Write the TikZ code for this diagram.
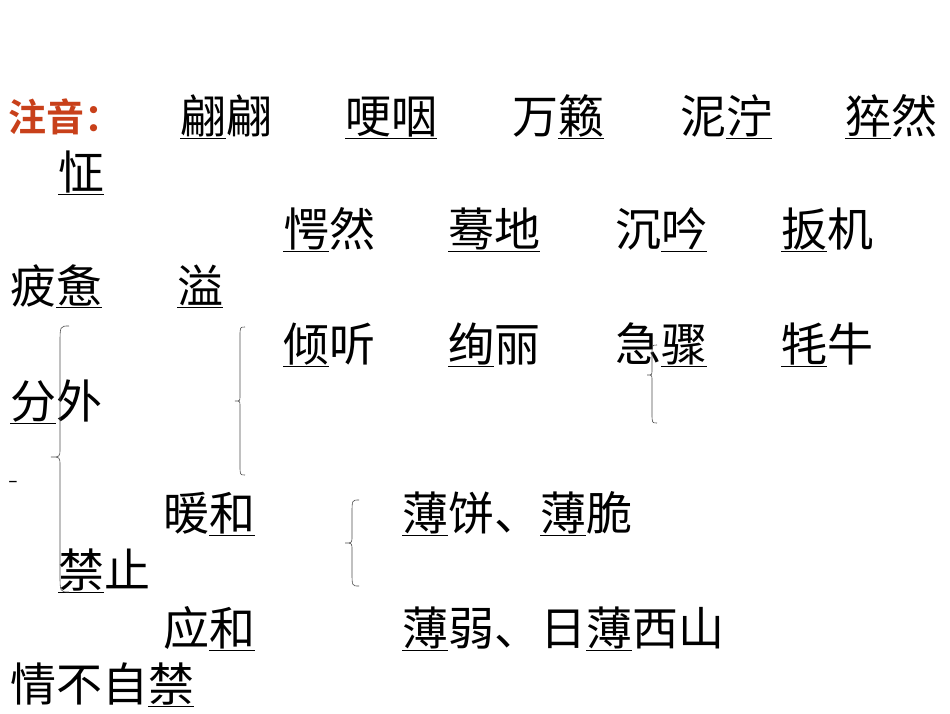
\documentclass[tikz,border=0pt]{standalone}
\usepackage{fontspec}
\newfontfamily\cjk{Noto Sans CJK SC}
\newfontfamily\cjkb{Noto Sans CJK SC Bold}
\definecolor{lab}{HTML}{C8401A}
\newcommand{\ux}[1]{\underline{#1}}
\tikzset{w/.style={anchor=base west,inner sep=0pt,font=\cjk\fontsize{46}{46}\selectfont},
 br/.style={draw=black!70,line width=0.6pt}}
\newcommand{\bracel}[5]{\draw[br] (#1+#5,#2) .. controls (#1,#2) .. (#1,#2+2*#5) -- (#1,#3-#5) .. controls (#1,#3) .. (#1-#5,#3) .. controls (#1,#3) .. (#1,#3+#5) -- (#1,#4-2*#5) .. controls (#1,#4) .. (#1+#5,#4);}
\begin{document}
\begin{tikzpicture}[x=1pt,y=-1pt]
\useasboundingbox (0,0) rectangle (950,713);
\node[w,text=lab,font=\cjkb\fontsize{38}{38}\selectfont] (lab) at (8,131) {注音：};
\node[w] (a1) at (180,133) {\ux{翩}翩};
\node[w] (a2) at (345,133) {\ux{哽咽}};
\node[w] (a3) at (512,133) {万\ux{籁}};
\node[w] (a4) at (680,133) {泥\ux{泞}};
\node[w] (a5) at (845,133) {\ux{猝}然};
\node[w] (b1) at (58,189) {\ux{怔}};
\node[w] (c1) at (283,246) {\ux{愕}然};
\node[w] (c2) at (448,246) {\ux{蓦地}};
\node[w] (c3) at (615,246) {沉\ux{吟}};
\node[w] (c4) at (781,246) {\ux{扳}机};
\node[w] (d1) at (10,303) {疲\ux{惫}};
\node[w] (d2) at (177,303) {\ux{溢}};
\node[w] (e1) at (283,361) {\ux{倾}听};
\node[w] (e2) at (448,361) {\ux{绚}丽};
\node[w] (e3) at (615,361) {急\ux{骤}};
\node[w] (e4) at (781,361) {\ux{牦}牛};
\node[w] (f1) at (10,418) {\ux{分}外};
\node[w,font=\fontsize{30}{30}\selectfont] (dash) at (9,488) {-};
\node[w] (g1) at (163,530) {暖\ux{和}};
\node[w] (g2) at (402,530) {\ux{薄}饼、\ux{薄}脆};
\node[w] (h1) at (58,587) {\ux{禁}止};
\node[w] (i1) at (163,645) {应\ux{和}};
\node[w] (i2) at (402,645) {\ux{薄}弱、日\ux{薄}西山};
\node[w] (j1) at (10,701) {情不自\ux{禁}};
\bracel{60}{326}{457}{592}{9}
\bracel{240}{327}{401}{475}{5}
\bracel{652}{345}{375}{423}{5}
\bracel{352}{500}{543}{586}{7}
\end{tikzpicture}
\end{document}
